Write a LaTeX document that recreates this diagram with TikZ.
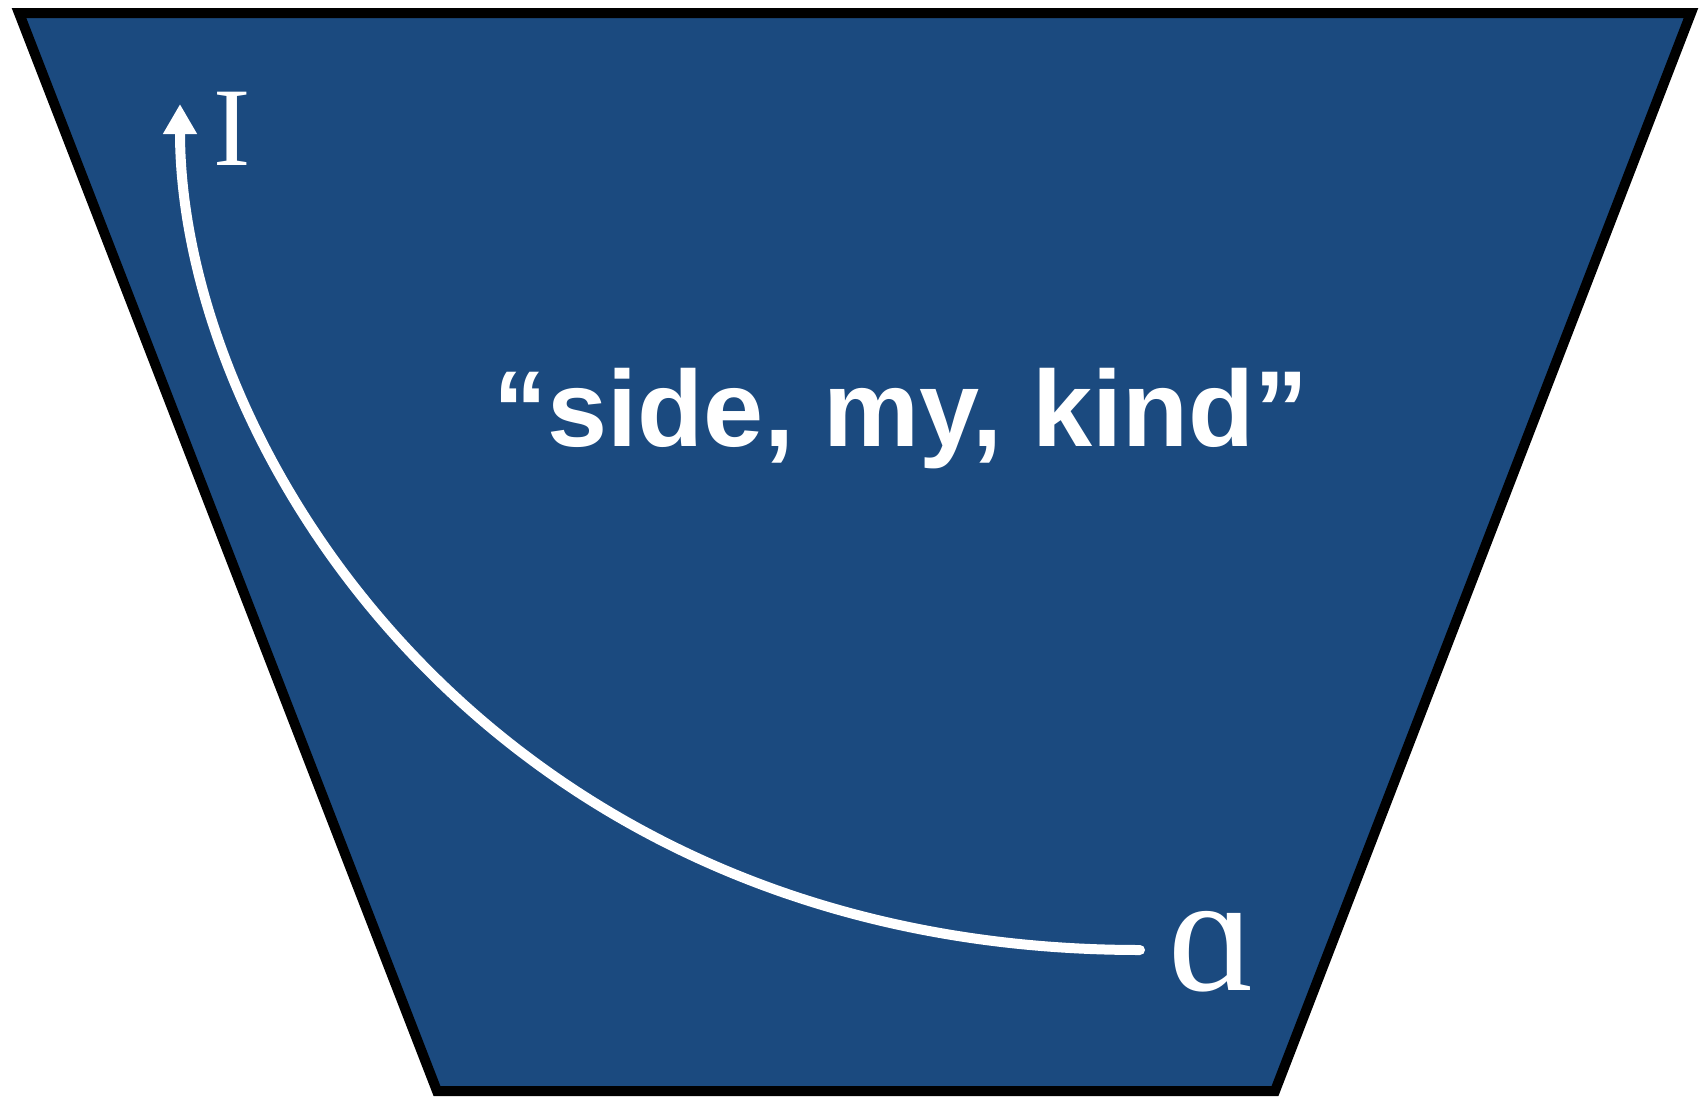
\documentclass[tikz,border=0pt]{standalone}
\usepackage{fontspec}
\setmainfont{Liberation Serif}
\newfontfamily\labelsans{Liberation Sans}
\usetikzlibrary{arrows.meta}
\definecolor{panelblue}{RGB}{27,74,127}
\begin{document}
\begin{tikzpicture}[x=0.5pt,y=-0.5pt,
  panel/.style={fill=panelblue, draw=black, line width=5pt, line join=miter},
  flow/.style={draw=white, line width=5pt, line cap=round, -{Triangle[width=16pt,length=15pt]}},
  symb/.style={text=white, inner sep=0pt},
  phrasestyle/.style={text=white, inner sep=0pt, font=\labelsans\bfseries\fontsize{54}{54}\selectfont}
]
\useasboundingbox (0,0) rectangle (1704,1098);
\fill[white] (0,0) rectangle (1704,1098);
\draw[panel] (19,13) -- (1691,13) -- (1275,1091) -- (437,1091) -- cycle;
\node[symb, font=\fontsize{56}{56}\selectfont, anchor=base west] (I) at (213,165) {I};
\node[symb, font=\fontsize{84}{84}\selectfont, anchor=base west] (alpha) at (1168,990) {ɑ};
\node[phrasestyle, anchor=base] (phrase) at (901,446) {“side, my, kind”};
\coordinate (start) at (1140,950);
\coordinate (tip) at (180,104);
\draw[flow] (start) .. controls (490,950) and (180,445) .. (tip);
\end{tikzpicture}
\end{document}
